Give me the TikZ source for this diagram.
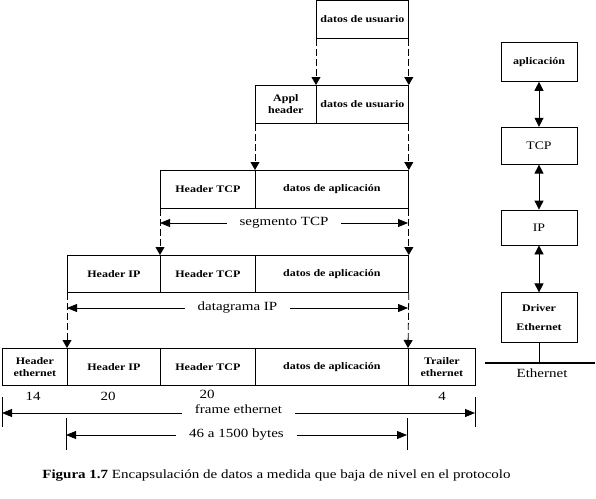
\documentclass[tikz,border=0pt]{standalone}
\usepackage{fontspec}
\setmainfont{Liberation Serif}[FakeStretch=1.2]
\usepackage{tikz}
\usetikzlibrary{arrows.meta, positioning}

\begin{document}
\begin{tikzpicture}[
	x=1pt, y=-1pt,
	>=Stealth,
	every node/.style={font=\fontsize{12.5}{14}\selectfont},
	box/.style={draw, line width=0.8pt, anchor=north west, inner sep=1pt, align=center,
		font=\fontsize{10}{12}\selectfont\bfseries},
	layer/.style={draw, line width=0.8pt, minimum width=76pt, inner sep=1pt, align=center,
		font=\fontsize{10}{12}\selectfont\bfseries},
	down arrow/.style={line width=0.8pt, dash pattern=on 7pt off 3pt,
		-{Triangle[width=9pt,length=8pt]}},
	span/.style={line width=0.8pt, {Triangle[width=8pt,length=10pt]}-{Triangle[width=8pt,length=10pt]}},
	span label/.style={fill=white, inner xsep=13pt, inner ysep=2pt},
	tick/.style={line width=0.8pt},
	link/.style={line width=0.8pt, {Triangle[width=9pt,length=9pt]}-{Triangle[width=9pt,length=9pt]}}
	]
	\useasboundingbox (0,0) rectangle (596,498);

	% =====================================================
	% CAPAS DE ENCAPSULACION
	% =====================================================
	\node[box, minimum width=92pt, minimum height=38pt] (usr1) at (316,0) {datos de usuario};

	\node[box, minimum width=61pt, minimum height=38pt] (appl2) at (255,85) {Appl\\header};
	\node[box, minimum width=92pt, minimum height=38pt] (usr2) at (316,85) {datos de usuario};

	\node[box, minimum width=95pt, minimum height=38pt] (hdrtcp3) at (160,170) {Header TCP};
	\node[box, minimum width=153pt, minimum height=38pt] (apl3) at (255,170) {datos de aplicación};

	\node[box, minimum width=93pt, minimum height=37pt] (hdrip4) at (67,255) {Header IP};
	\node[box, minimum width=95pt, minimum height=37pt] (hdrtcp4) at (160,255) {Header TCP};
	\node[box, minimum width=153pt, minimum height=37pt] (apl4) at (255,255) {datos de aplicación};

	\node[box, minimum width=65pt, minimum height=37pt] (hdreth5) at (2,348) {Header\\ethernet};
	\node[box, minimum width=93pt, minimum height=37pt] (hdrip5) at (67,348) {Header IP};
	\node[box, minimum width=95pt, minimum height=37pt] (hdrtcp5) at (160,348) {Header TCP};
	\node[box, minimum width=153pt, minimum height=37pt] (apl5) at (255,348) {datos de aplicación};
	\node[box, minimum width=67pt, minimum height=37pt] (trl5) at (408,348) {Trailer\\ethernet};

	% =====================================================
	% FLECHAS DISCONTINUAS
	% =====================================================
	\draw[down arrow] (usr1.south west) -- (usr2.north west);
	\draw[down arrow] (usr1.south east) -- (usr2.north east);
	\draw[down arrow] (appl2.south west) -- (apl3.north west);
	\draw[down arrow] (usr2.south east) -- (apl3.north east);
	\draw[down arrow] (hdrtcp3.south west) -- (hdrtcp4.north west);
	\draw[down arrow] (apl3.south east) -- (apl4.north east);
	\draw[down arrow] (hdrip4.south west) -- (hdrip5.north west);
	\draw[down arrow] (apl4.south east) -- (trl5.north west);

	% =====================================================
	% LONGITUDES
	% =====================================================
	\coordinate (segL) at (160,223);
	\coordinate (segR) at (408,223);
	\coordinate (dgL) at (67,308);
	\coordinate (dgR) at (408,308);
	\coordinate (frL) at (2,413);
	\coordinate (frR) at (475,413);
	\coordinate (byL) at (66,435);
	\coordinate (byR) at (407,435);

	\draw[span] (segL) -- node[span label] (seg) {segmento TCP} (segR);
	\draw[span] (dgL) -- node[span label] (dg) {datagrama IP} (dgR);
	\draw[span] (frL) -- node[span label, yshift=4pt] (fr) {frame ethernet} (frR);
	\draw[span] (byL) -- node[span label] (by) {46 a 1500 bytes} (byR);

	\draw[tick] (2,397) -- (2,427);
	\draw[tick] (475,397) -- (475,427);
	\draw[tick] (66,418) -- (66,450);
	\draw[tick] (407,418) -- (407,450);

	\node (n14) at (33,396) {14};
	\node (n20a) at (108,396) {20};
	\node[inner sep=0pt] (n20b) at (207,394) {20};
	\node (n4) at (442,396) {4};

	% =====================================================
	% PILA DE PROTOCOLOS
	% =====================================================
	\node[layer, minimum height=39pt, anchor=north] (app) at (539,42) {aplicación};
	\node[layer, minimum height=37pt, below=45pt of app, font=\fontsize{11.5}{13}\selectfont] (tcp) {TCP};
	\node[layer, minimum height=35pt, below=45pt of tcp, font=\fontsize{11.5}{13}\selectfont] (ip) {IP};
	\node[layer, minimum height=50pt, below=47pt of ip] (drv) {Driver\\[7pt]Ethernet};

	\draw[link] (app) -- (tcp);
	\draw[link] (tcp) -- (ip);
	\draw[link] (ip) -- (drv);

	\coordinate (busL) at (485,363);
	\coordinate (busR) at (595,363);
	\draw[line width=1.6pt] (busL) -- (busR);
	\draw[line width=0.8pt] (drv.south) -- (drv.south |- busL);
	\node (eth) at (542,373) {Ethernet};

	% =====================================================
	% PIE DE FIGURA
	% =====================================================
	\node (cap) at (276.5,476) {\textbf{Figura 1.7} Encapsulación de datos a medida que baja de nivel en el protocolo};

\end{tikzpicture}
\end{document}
